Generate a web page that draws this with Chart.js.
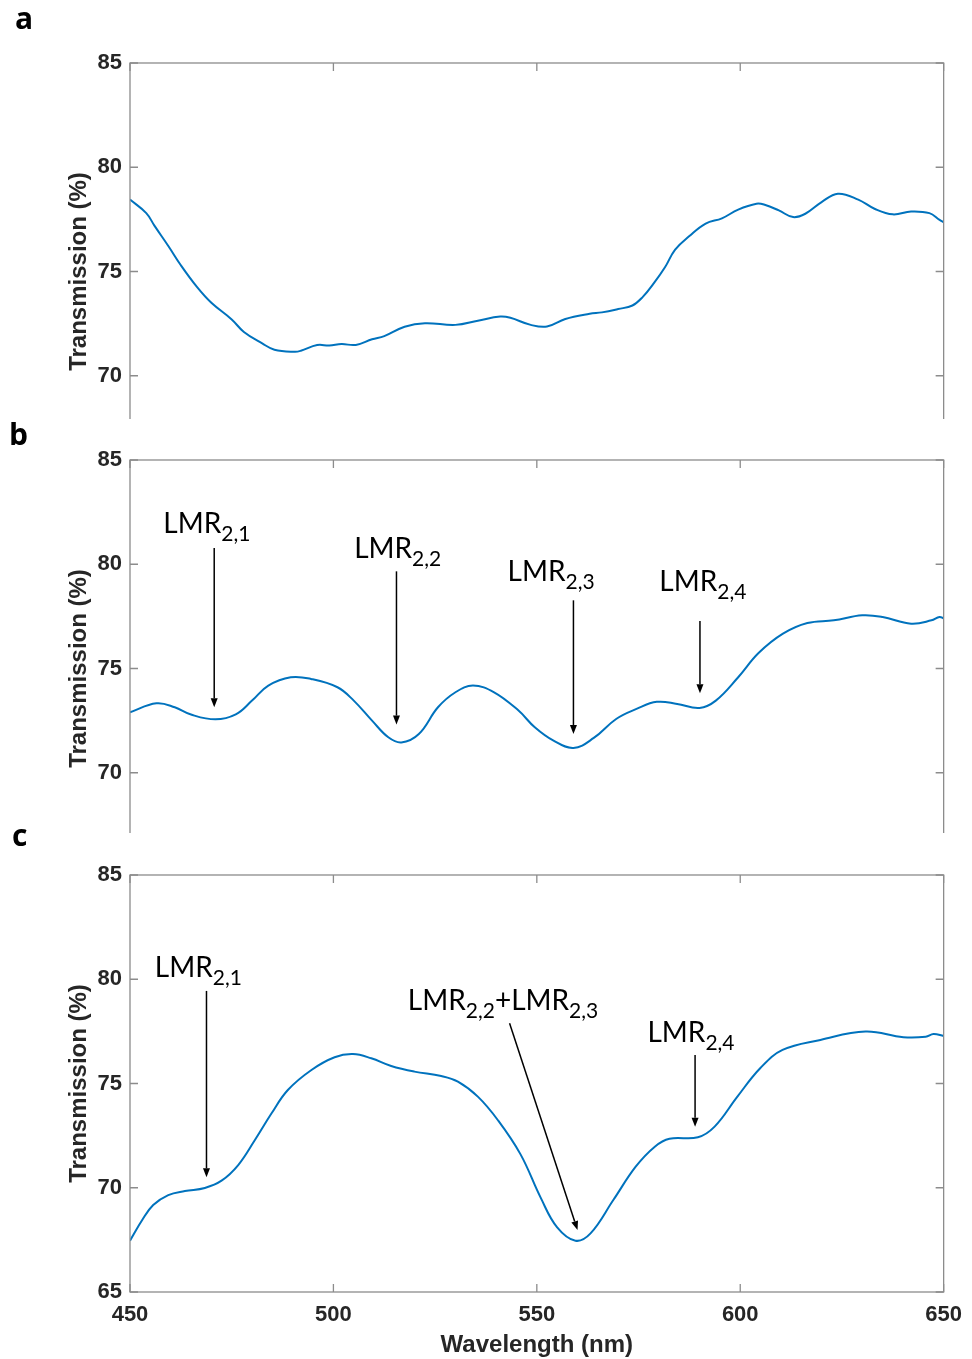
<!DOCTYPE html>
<html>
<head>
<meta charset="utf-8">
<script src="https://cdn.jsdelivr.net/npm/chart.js@4.4.1/dist/chart.umd.min.js"></script>
<style>
  html, body { margin: 0; padding: 0; background: #fff; }
  .panel { position: absolute; left: 0; width: 972px; overflow: hidden; }
  canvas { display: block; }
</style>
</head>
<body>
<div class="panel" style="top:0;height:419px;background:#fff"><canvas id="chartA" width="972" height="560"></canvas></div>
<div class="panel" style="top:419px;height:414px;background:#fff"><canvas id="chartB" width="972" height="540"></canvas></div>
<div class="panel" style="top:820px;height:539px"><canvas id="chartC" width="972" height="539"></canvas></div>
<script>
// ticks
const xTicks = [450, 500, 550, 600, 650];
const yTicks = [65, 70, 75, 80, 85];

// panel a
const waveA = [450, 454, 456, 459.5, 462.5, 466.5, 470, 475, 478, 482.5, 485.5, 490.5, 492, 496, 499, 502, 505.5, 509.5, 512.5, 517.5, 522.5, 530, 535.5, 541, 543.5, 548.5, 552.5, 557, 563, 566, 570, 573.5, 576, 579, 581.5, 584, 587.5, 591.5, 595.5, 599.5, 604, 606, 609.5, 613, 616, 620, 624, 629, 633, 637.5, 642, 646.5, 649, 650];
const transA = [78.45, 77.8, 77.2, 76.2, 75.3, 74.25, 73.5, 72.7, 72.1, 71.55, 71.25, 71.15, 71.2, 71.47, 71.45, 71.52, 71.48, 71.75, 71.9, 72.35, 72.52, 72.44, 72.64, 72.84, 72.78, 72.44, 72.36, 72.72, 72.97, 73.04, 73.2, 73.37, 73.77, 74.5, 75.2, 76.05, 76.7, 77.3, 77.55, 77.97, 78.25, 78.2, 77.93, 77.61, 77.77, 78.33, 78.73, 78.45, 78.01, 77.74, 77.88, 77.8, 77.48, 77.37];

// panel b
const waveB = [450, 456.5, 461, 465, 471, 476, 480, 484, 489.5, 494.5, 501, 505, 509.5, 513.5, 516.7, 521, 525.7, 530, 534.3, 539.5, 545.5, 549.5, 554, 559, 564, 569.5, 574.5, 579.5, 584.5, 590, 594, 599.5, 604.5, 610.5, 616.5, 623, 630, 635, 642, 647, 649, 650];
const transB = [72.9, 73.33, 73.14, 72.79, 72.56, 72.8, 73.46, 74.18, 74.58, 74.5, 74.1, 73.46, 72.5, 71.7, 71.45, 71.86, 73.14, 73.86, 74.18, 73.86, 72.98, 72.18, 71.55, 71.19, 71.67, 72.58, 73.06, 73.4, 73.3, 73.11, 73.46, 74.58, 75.74, 76.67, 77.18, 77.31, 77.55, 77.47, 77.15, 77.31, 77.47, 77.4];

// panel c
const waveC = [450, 453, 455.7, 459.4, 463.5, 468.4, 472.5, 476.6, 480.7, 484.8, 488.8, 494.6, 500.3, 504.8, 509.3, 514.2, 519.9, 526.5, 530.6, 535.5, 540.4, 546, 551, 555, 559.5, 563.2, 568.8, 574.3, 579, 582.6, 589.6, 593.7, 599.3, 604.9, 610.4, 619.7, 630.8, 640.1, 645.6, 647.5, 650];
const transC = [67.46, 68.45, 69.17, 69.65, 69.84, 69.99, 70.34, 71.09, 72.29, 73.57, 74.69, 75.65, 76.26, 76.41, 76.21, 75.84, 75.57, 75.36, 75.09, 74.37, 73.25, 71.6, 69.5, 68.1, 67.46, 67.81, 69.41, 71.01, 71.97, 72.35, 72.42, 72.93, 74.37, 75.73, 76.61, 77.09, 77.49, 77.22, 77.24, 77.37, 77.28];

// anotaciones: texto en segmentos [texto, subindice]
const notasB = [
  { texto: [['LMR', 0], ['2,1', 1]], tx: 458.2, ty: 81.49, x1: 470.7, y1: 80.78, x2: 470.7, y2: 73.14 },
  { texto: [['LMR', 0], ['2,2', 1]], tx: 505.1, ty: 80.32, x1: 515.5, y1: 79.66, x2: 515.5, y2: 72.31 },
  { texto: [['LMR', 0], ['2,3', 1]], tx: 542.8, ty: 79.18, x1: 559, y1: 78.27, x2: 559, y2: 71.86 },
  { texto: [['LMR', 0], ['2,4', 1]], tx: 580.1, ty: 78.72, x1: 590.1, y1: 77.28, x2: 590.1, y2: 73.81 }
];
const notasC = [
  { texto: [['LMR', 0], ['2,1', 1]], tx: 456.1, ty: 80.09, x1: 468.8, y1: 79.44, x2: 468.8, y2: 70.5 },
  { texto: [['LMR', 0], ['2,2', 1], ['+LMR', 0], ['2,3', 1]], tx: 518.3, ty: 78.53, x1: 543.3, y1: 77.89, x2: 560.0, y2: 67.97 },
  { texto: [['LMR', 0], ['2,4', 1]], tx: 577.2, ty: 77.0, x1: 588.9, y1: 76.37, x2: 588.9, y2: 72.93 }
];

const fuenteEje = 'Liberation Sans, Arial, sans-serif';

const dibujarFlecha = (ctx, ax, ay, bx, by) => {
  const ang = Math.atan2(by - ay, bx - ax);
  const largo = 9, ancho = 3.5;
  const cx = bx - largo * Math.cos(ang), cy = by - largo * Math.sin(ang);
  ctx.beginPath();
  ctx.moveTo(ax, ay);
  ctx.lineTo(cx, cy);
  ctx.stroke();
  ctx.beginPath();
  ctx.moveTo(bx, by);
  ctx.lineTo(cx + ancho * Math.sin(ang), cy - ancho * Math.cos(ang));
  ctx.lineTo(cx - ancho * Math.sin(ang), cy + ancho * Math.cos(ang));
  ctx.closePath();
  ctx.fill();
};

// marco con ticks hacia adentro, anotaciones y letra del panel
const marco = {
  id: 'marco',
  afterDatasetsDraw(chart, args, opts) {
    const { ctx, chartArea: { left, right, top, bottom }, scales: { x, y } } = chart;
    ctx.save();
    ctx.strokeStyle = '#8c8c8c';
    ctx.lineWidth = 1.3;
    ctx.strokeRect(left, top, right - left, bottom - top);
    ctx.beginPath();
    yTicks.forEach(v => {
      const py = y.getPixelForValue(v);
      ctx.moveTo(left, py); ctx.lineTo(left + 8, py);
      ctx.moveTo(right, py); ctx.lineTo(right - 8, py);
    });
    xTicks.forEach(v => {
      const px = x.getPixelForValue(v);
      ctx.moveTo(px, top); ctx.lineTo(px, top + 8);
      ctx.moveTo(px, bottom); ctx.lineTo(px, bottom - 8);
    });
    ctx.stroke();

    ctx.fillStyle = '#000';
    ctx.strokeStyle = '#000';
    ctx.lineWidth = 1.5;
    ctx.textBaseline = 'alphabetic';
    ctx.textAlign = 'left';
    (opts.notas || []).forEach(n => {
      let px = x.getPixelForValue(n.tx);
      const py = y.getPixelForValue(n.ty);
      n.texto.forEach(([t, sub]) => {
        ctx.font = sub ? '21px Lato' : '28px Lato';
        ctx.fillText(t, px, sub ? py + 8 : py);
        px += ctx.measureText(t).width;
      });
      dibujarFlecha(ctx, x.getPixelForValue(n.x1), y.getPixelForValue(n.y1),
        x.getPixelForValue(n.x2), y.getPixelForValue(n.y2));
    });

    ctx.font = 'bold 30px "Open Sans"';
    ctx.fillText(opts.letra, opts.letraX, opts.letraY);
    ctx.restore();
  }
};

const crearPanel = (id, wave, trans, top, alto, letra, letraX, letraY, notas) => {
  const ctx = document.getElementById(id).getContext('2d');
  return new Chart(ctx, {
    type: 'line',
    data: {
      datasets: [{
        data: wave.map((w, i) => ({ x: w, y: trans[i] })),
        borderColor: '#0072BD',
        borderWidth: 2,
        pointRadius: 0,
        tension: 0.4,
        fill: false
      }]
    },
    options: {
      responsive: false,
      animation: false,
      devicePixelRatio: 1,
      layout: { padding: { top: top, right: 27, bottom: alto - top - 417 - 65, left: 0 } },
      plugins: {
        legend: { display: false },
        tooltip: { enabled: false },
        marco: { notas, letra, letraX, letraY }
      },
      scales: {
        x: {
          type: 'linear', min: 450, max: 650,
          afterBuildTicks: s => { s.ticks = xTicks.map(v => ({ value: v })); },
          afterFit: s => { s.height = 65; },
          grid: { display: false, drawTicks: false },
          border: { display: false },
          ticks: { padding: 10, color: '#262626', font: { family: fuenteEje, weight: 'bold', size: 22 } },
          title: { display: true, text: 'Wavelength (nm)', color: '#262626', padding: { top: 0, bottom: 0 },
            font: { family: fuenteEje, weight: 'bold', size: 24, lineHeight: 1 } }
        },
        y: {
          type: 'linear', min: 65, max: 85,
          afterBuildTicks: s => { s.ticks = yTicks.map(v => ({ value: v })); },
          afterFit: s => { s.width = 130; },
          grid: { display: false, drawTicks: false },
          border: { display: false },
          ticks: { padding: 8, color: '#262626', font: { family: fuenteEje, weight: 'bold', size: 22 } },
          title: { display: true, text: 'Transmission (%)', color: '#262626', padding: { top: 67, bottom: 0 },
            font: { family: fuenteEje, weight: 'bold', size: 24, lineHeight: 1 } }
        }
      }
    },
    plugins: [marco]
  });
};

crearPanel('chartA', waveA, transA, 63, 560, 'a', 15, 29, []);
crearPanel('chartB', waveB, transB, 41, 540, 'b', 9, 26, notasB);
crearPanel('chartC', waveC, transC, 55, 539, 'c', 12, 26, notasC);
</script>
</body>
</html>
